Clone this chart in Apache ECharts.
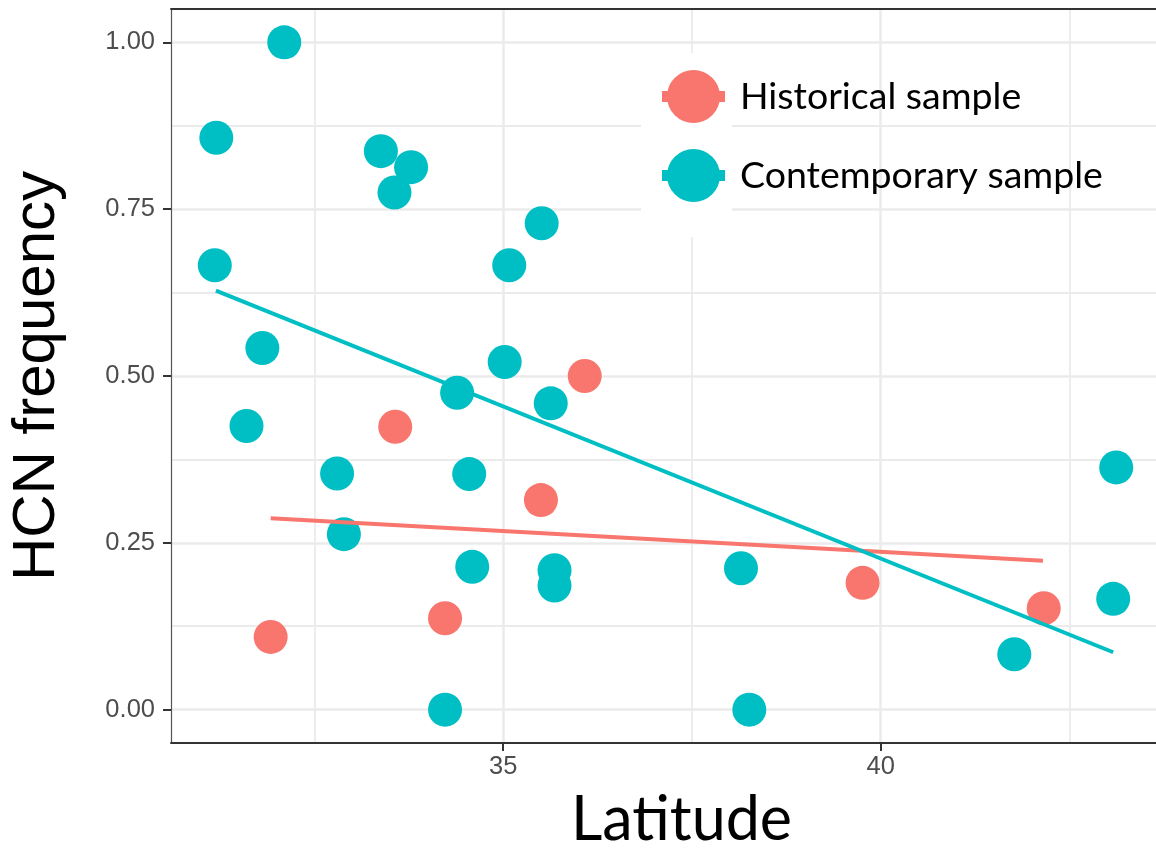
<!DOCTYPE html>
<html>
<head>
<meta charset="utf-8">
<script src="https://cdn.jsdelivr.net/npm/echarts@6/dist/echarts.min.js"></script>
<style>
  html, body { margin: 0; padding: 0; background: #ffffff; }
  #chart { width: 1156px; height: 853px; }
</style>
</head>
<body>
<div id="chart"></div>
<script>
// ---- Data ----
const historicalLat = [31.92, 33.57, 34.23, 35.50, 36.08, 39.76, 42.16];
const historicalHCN = [0.109, 0.424, 0.137, 0.314, 0.500, 0.190, 0.152];

const contemporaryLat = [32.10, 31.20, 33.38, 33.78, 33.56, 35.51, 31.18, 35.08, 31.81, 35.02,
                         34.39, 35.63, 31.60, 32.80, 34.55, 32.89, 34.59, 35.68, 35.68, 38.15,
                         34.23, 38.26, 41.77, 43.12, 43.08];
const contemporaryHCN = [1.000, 0.857, 0.837, 0.813, 0.775, 0.729, 0.666, 0.666, 0.542, 0.521,
                         0.475, 0.459, 0.425, 0.354, 0.353, 0.263, 0.214, 0.209, 0.186, 0.212,
                         0.000, 0.000, 0.083, 0.363, 0.166];

// fitted regression lines (end points)
const historicalFitLat = [31.92, 42.15];
const historicalFitHCN = [0.287, 0.223];
const contemporaryFitLat = [31.195, 43.08];
const contemporaryFitHCN = [0.628, 0.086];

const xMajorTicks = [35, 40];
const xMinorTicks = [32.5, 37.5, 42.5];
const yMajorTicks = [0, 0.25, 0.5, 0.75, 1.0];
const yMinorTicks = [0.125, 0.375, 0.625, 0.875];

const seriesNames = ['Historical sample', 'Contemporary sample'];
const xTitle = 'Latitude';
const yTitle = 'HCN frequency';

// ---- Build ----
const zip = (a, b) => a.map((v, i) => [v, b[i]]);
const RED = '#F8766D', TEAL = '#00BFC4';
const GRID = '#EBEBEB';
const iconPath = 'path://M5,26.5 A26.5,26.5 0 1 1 58,26.5 A26.5,26.5 0 1 1 5,26.5 Z M0,21 L63,21 L63,32 L0,32 Z';

const chart = echarts.init(document.getElementById('chart'), null, { renderer: 'canvas' });

const option = {
  backgroundColor: '#ffffff',
  animation: false,
  grid: { left: 171, top: 9, right: -4, bottom: 110, containLabel: false, outerBoundsMode: 'none' },
  graphic: [{
    type: 'rect', z: 1,
    shape: { x: 641, y: 53, width: 91, height: 184 },
    style: { fill: '#ffffff' }
  }],
  legend: {
    orient: 'vertical',
    left: 662, top: 70,
    padding: 0,
    itemWidth: 63, itemHeight: 53, itemGap: 26,
    textStyle: { fontFamily: 'Lato', fontSize: 37.5, color: '#000000', padding: [0, 0, 0, 10] },
    data: [
      { name: seriesNames[0], icon: iconPath },
      { name: seriesNames[1], icon: iconPath }
    ]
  },
  xAxis: [{
    type: 'value', min: 30.6, max: 43.7, position: 'bottom',
    name: xTitle, nameLocation: 'middle', nameGap: 47,
    nameTextStyle: { fontFamily: 'Lato', fontSize: 61, color: '#000000', padding: [0, 0, 0, 32] },
    axisLine: { show: true, onZero: false, lineStyle: { color: '#333333', width: 2 } },
    axisTick: { show: true, customValues: xMajorTicks, length: 8, lineStyle: { color: '#333333', width: 2 } },
    axisLabel: { show: true, customValues: xMajorTicks, margin: 11, fontFamily: 'Liberation Sans', fontSize: 25.5, color: '#4D4D4D' },
    splitLine: { show: true, lineStyle: { color: GRID, width: 2.5 } }
  }, {
    type: 'value', min: 30.6, max: 43.7, position: 'top',
    axisLine: { show: true, onZero: false, lineStyle: { color: '#333333', width: 2 } },
    axisTick: { show: false, customValues: xMinorTicks },
    axisLabel: { show: false, customValues: xMinorTicks },
    splitLine: { show: true, lineStyle: { color: GRID, width: 1.8 } }
  }],
  yAxis: [{
    type: 'value', min: -0.05, max: 1.05, position: 'left',
    name: yTitle, nameLocation: 'middle', nameGap: 104, nameRotate: 90,
    nameTextStyle: { fontFamily: 'Liberation Sans', fontSize: 60, color: '#000000' },
    axisLine: { show: true, onZero: false, lineStyle: { color: '#555555', width: 1.2 } },
    axisTick: { show: true, customValues: yMajorTicks, length: 8, lineStyle: { color: '#333333', width: 2 } },
    axisLabel: { show: true, customValues: yMajorTicks, margin: 16, fontFamily: 'Liberation Sans', fontSize: 25.5, color: '#4D4D4D',
                 formatter: v => v.toFixed(2) },
    splitLine: { show: true, lineStyle: { color: GRID, width: 2.5 } }
  }, {
    type: 'value', min: -0.05, max: 1.05, position: 'right',
    axisLine: { show: false },
    axisTick: { show: false, customValues: yMinorTicks },
    axisLabel: { show: false, customValues: yMinorTicks },
    splitLine: { show: true, lineStyle: { color: GRID, width: 1.8 } }
  }],
  series: [
    {
      name: seriesNames[0], type: 'scatter', xAxisIndex: 0, yAxisIndex: 0,
      symbol: 'circle', symbolSize: 34, z: 3,
      itemStyle: { color: RED, opacity: 1 },
      data: zip(historicalLat, historicalHCN)
    },
    {
      name: seriesNames[1], type: 'scatter', xAxisIndex: 0, yAxisIndex: 0,
      symbol: 'circle', symbolSize: 34, z: 3,
      itemStyle: { color: TEAL, opacity: 1 },
      data: zip(contemporaryLat, contemporaryHCN)
    },
    {
      name: 'Historical fit', type: 'line', xAxisIndex: 0, yAxisIndex: 0,
      showSymbol: false, symbol: 'none', z: 4, silent: true,
      lineStyle: { color: RED, width: 4 },
      data: zip(historicalFitLat, historicalFitHCN)
    },
    {
      name: 'Contemporary fit', type: 'line', xAxisIndex: 0, yAxisIndex: 0,
      showSymbol: false, symbol: 'none', z: 4, silent: true,
      lineStyle: { color: TEAL, width: 4 },
      data: zip(contemporaryFitLat, contemporaryFitHCN)
    }
  ]
};

chart.setOption(option);
</script>
</body>
</html>
